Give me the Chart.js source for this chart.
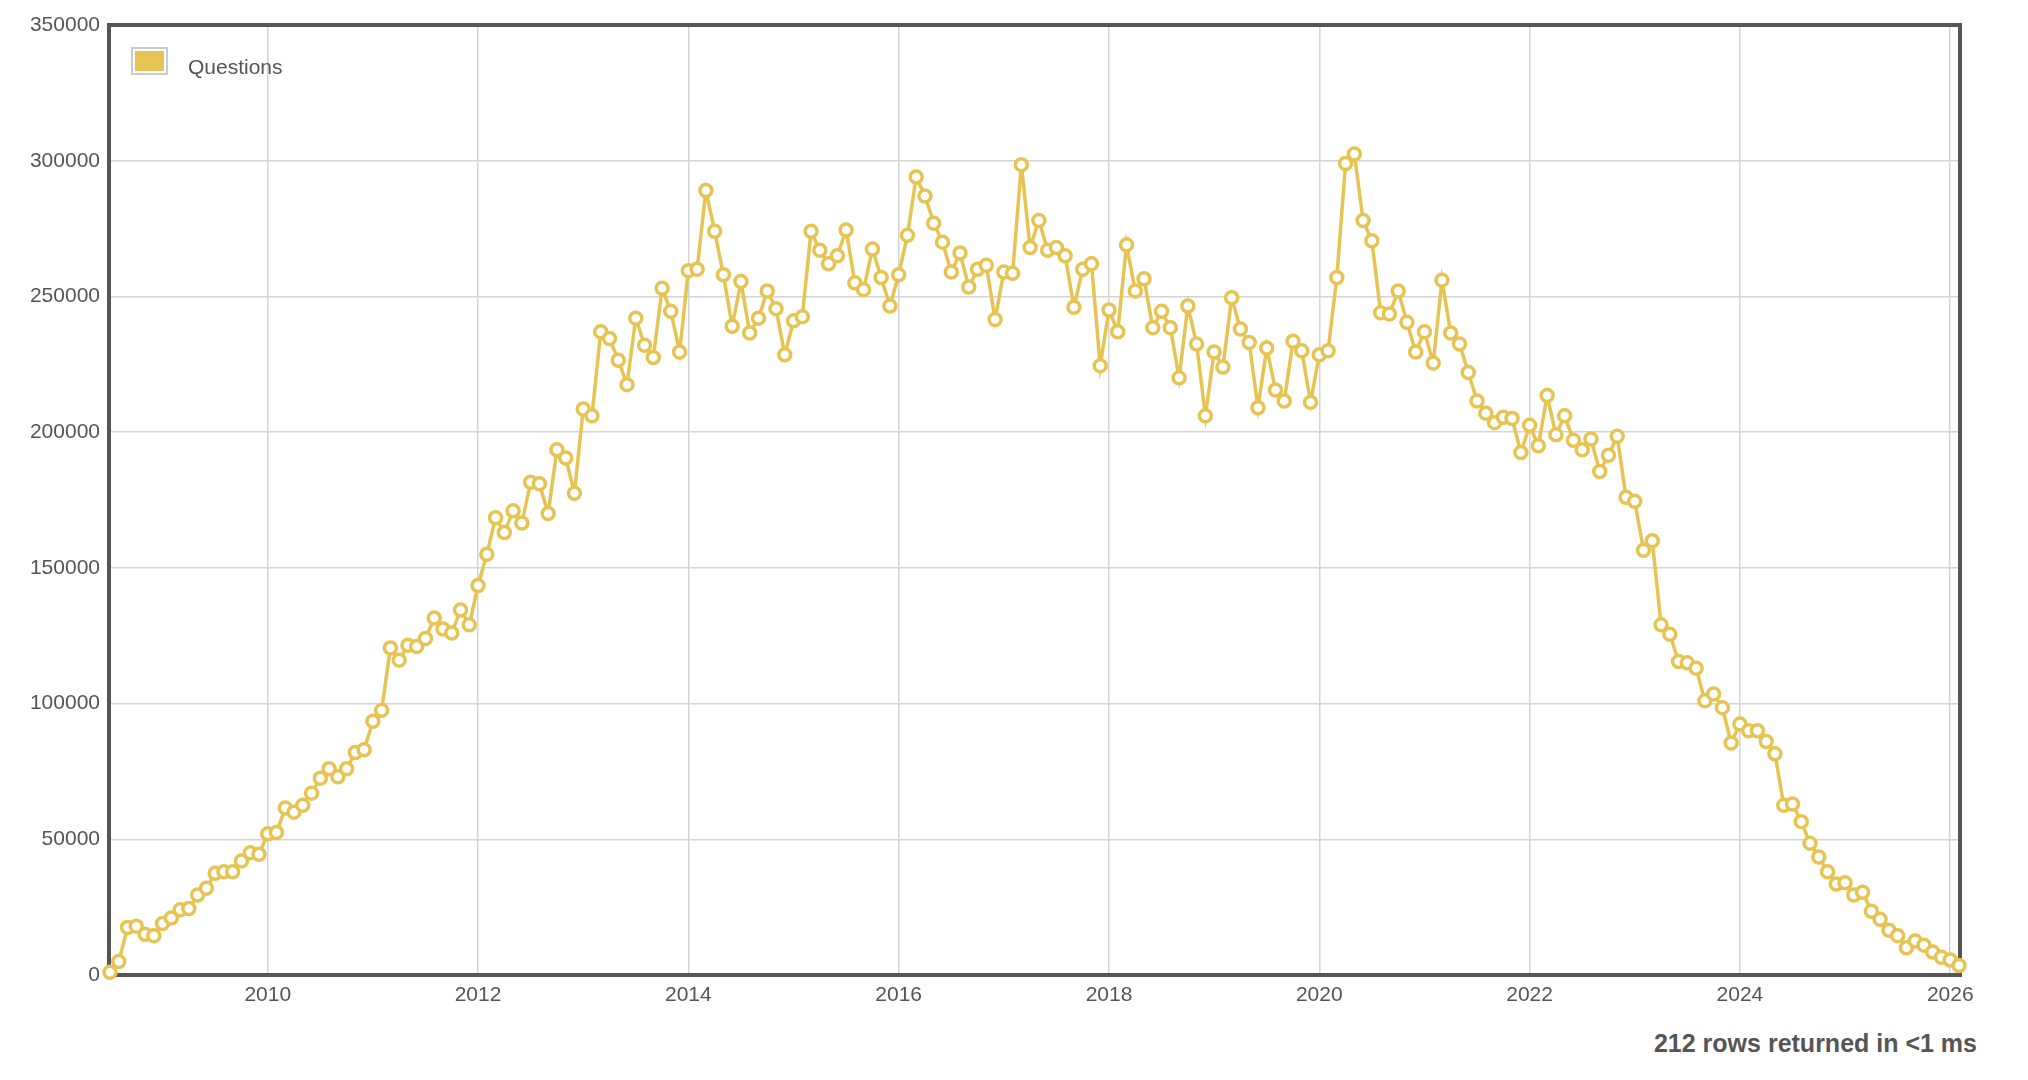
<!DOCTYPE html>
<html><head><meta charset="utf-8">
<script src="https://cdn.jsdelivr.net/npm/chart.js@4"></script>
<style>
html,body{margin:0;padding:0;background:#fff;width:2028px;height:1080px;overflow:hidden;font-family:"Liberation Sans",Arial,sans-serif}
#wrap{position:absolute;left:0;top:0;width:2028px;height:1012px}
#foot{position:absolute;right:51px;top:1029px;font-weight:bold;font-size:25px;color:#555}
</style></head><body>
<div id="wrap"><canvas id="c"></canvas></div>
<div id="foot">212 rows returned in &lt;1 ms</div>
<script>
const seriesName = "Questions";
const startYear = 2008, startMonth = 7;
const questions = [
1000,5000,17500,18000,15000,14500,
19000,21000,24000,24500,29500,32000,37500,38000,38000,42000,45000,44500,
52000,52500,61500,60000,62500,67000,72500,76000,73000,76000,82000,83000,
93500,97500,120500,116000,121500,121000,124000,131500,127500,126000,134500,129000,
143500,155000,168500,163000,171000,166500,181500,181000,170000,193500,190500,177500,
208500,206000,237000,234500,226500,217500,242000,232000,227500,253000,244500,229500,
259500,260000,289000,274000,258000,239000,255500,236500,242000,252000,245500,228500,
241000,242500,274000,267000,262000,265000,274500,255000,252500,267500,257000,246500,
258000,272500,294000,287000,277000,270000,259000,266000,253500,260000,261500,241500,
259000,258500,298500,268000,278000,267000,268000,265000,246000,260000,262000,224500,
245000,237000,269000,252000,256500,238500,244500,238500,220000,246500,232500,206000,
229500,224000,249500,238000,233000,209000,231000,215500,211500,233500,230000,211000,
228500,230000,257000,299000,302500,278000,270500,244000,243500,252000,240500,229500,
237000,225500,256000,236500,232500,222000,211500,207000,203500,205500,205000,192500,
202500,195000,213500,199000,206000,197000,193500,197500,185500,191500,198500,176000,
174500,156500,160000,129000,125500,115500,115000,113000,101000,103500,98500,85500,
92500,90000,90000,86000,81500,62500,63000,56500,48500,43500,38000,33500,
34000,29500,30500,23500,20500,16500,14500,10000,12500,11000,8500,6500,
5500,3500];
const xTickYears = [2010,2012,2014,2016,2018,2020,2022,2024,2026];
const yTicks = [0,50000,100000,150000,200000,250000,300000,350000];

const points = questions.map((v,i)=>({x: startYear + (startMonth-1+i)/12, y: v}));
const gold = '#e6c453';
const textCol = '#555';

const deco = {
  id:'deco',
  beforeDatasetsDraw(chart){
    const {ctx, chartArea:a} = chart;
    ctx.save();
    ctx.strokeStyle = '#555'; ctx.lineWidth = 4;
    ctx.strokeRect(a.left-1, a.top, a.right-a.left+2, a.bottom-a.top);
    ctx.restore();
  },
  afterDraw(chart){
    const {ctx} = chart;
    ctx.save();
    ctx.fillStyle='#fff'; ctx.fillRect(131,47,37,28);
    ctx.strokeStyle='#ccc'; ctx.lineWidth=2; ctx.strokeRect(132,48,35,26);
    ctx.fillStyle=gold; ctx.fillRect(135,51,29,20);
    ctx.fillStyle=textCol; ctx.font='21px "Liberation Sans", Arial, sans-serif';
    ctx.textBaseline='middle'; ctx.fillText(seriesName,188,68);
    ctx.restore();
  }
};

new Chart(document.getElementById('c'),{
  type:'line',
  data:{datasets:[{label:seriesName,data:points,borderColor:gold,borderWidth:3.5,clip:false,
    pointRadius:6,pointBorderWidth:3.5,pointBackgroundColor:'#fff',pointBorderColor:gold,tension:0}]},
  options:{
    responsive:true,maintainAspectRatio:false,animation:false,
    layout:{padding:{left:0,top:25,right:69,bottom:0}},
    plugins:{legend:{display:false},tooltip:{enabled:false}},
    scales:{
      x:{type:'linear',min:points[0].x,max:points[points.length-1].x,
        afterBuildTicks:s=>{s.ticks=xTickYears.map(v=>({value:v}));},
        afterFit:s=>{s.height=37;},
        grid:{color:'#d4d4d4',lineWidth:1.5,drawTicks:false},border:{display:false},
        ticks:{color:textCol,padding:8,font:{size:21,family:'"Liberation Sans", Arial, sans-serif'},callback:v=>String(v),maxRotation:0,autoSkip:false}},
      y:{min:0,max:350000,
        afterBuildTicks:s=>{s.ticks=yTicks.map(v=>({value:v}));},
        afterFit:s=>{s.width=110;},
        grid:{color:'#d4d4d4',lineWidth:1.5,drawTicks:false},border:{display:false},
        ticks:{color:textCol,padding:10,font:{size:21,family:'"Liberation Sans", Arial, sans-serif'},callback:v=>String(v)}}
    }
  },
  plugins:[deco]
});
</script></body></html>
